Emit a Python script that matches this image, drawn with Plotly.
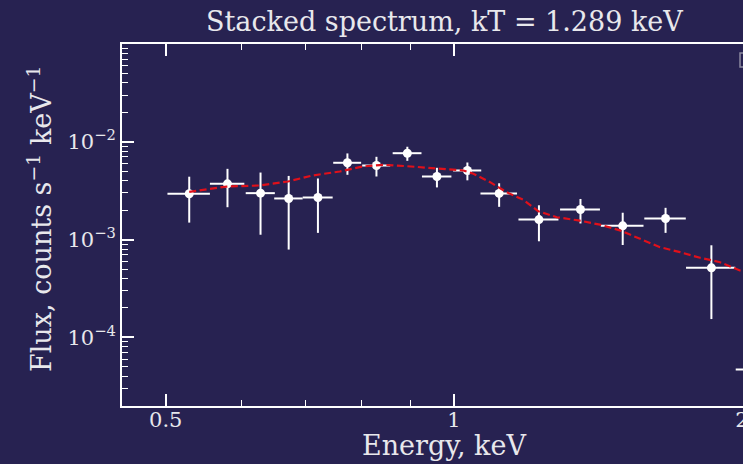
import numpy as np
import plotly.graph_objects as go

# Stacked spectrum: binned flux with 1-sigma errors
energy = [0.529, 0.580, 0.628, 0.672, 0.721, 0.774, 0.830, 0.894, 0.960, 1.033,
          1.115, 1.227, 1.356, 1.501, 1.664, 1.858, 2.09]
energy_err = [0.027, 0.024, 0.022, 0.023, 0.026, 0.026, 0.028, 0.031, 0.034, 0.035,
              0.049, 0.059, 0.065, 0.077, 0.083, 0.11, 0.12]
flux = [2.94e-3, 3.71e-3, 2.98e-3, 2.63e-3, 2.69e-3, 6.09e-3, 5.71e-3, 7.63e-3, 4.41e-3, 5.08e-3,
        2.96e-3, 1.60e-3, 2.03e-3, 1.38e-3, 1.64e-3, 5.14e-4, 4.71e-5]
flux_err = [1.45e-3, 1.57e-3, 1.86e-3, 1.84e-3, 1.52e-3, 1.5e-3, 1.3e-3, 1.25e-3, 1.0e-3, 1.05e-3,
            0.8e-3, 0.64e-3, 0.57e-3, 0.5e-3, 0.47e-3, 3.6e-4, 3.0e-5]

# Best-fit thermal model
model_energy = [0.529, 0.579, 0.627, 0.671, 0.712, 0.760, 0.803, 0.843, 0.893, 0.944,
                1.023, 1.048, 1.091, 1.135, 1.182, 1.225, 1.281, 1.349, 1.421, 1.491,
                1.565, 1.642, 1.723, 1.808, 1.897, 1.990, 2.09]
model_flux = [3.07e-3, 3.48e-3, 3.57e-3, 3.92e-3, 4.52e-3, 4.96e-3, 5.58e-3, 5.81e-3, 5.62e-3, 5.41e-3,
              5.08e-3, 4.70e-3, 3.86e-3, 3.05e-3, 2.55e-3, 1.95e-3, 1.69e-3, 1.57e-3, 1.42e-3, 1.24e-3,
              1.02e-3, 8.36e-4, 7.43e-4, 6.51e-4, 5.87e-4, 4.83e-4, 4.3e-4]

x_ticks = [0.5, 1, 2]
x_tick_text = ["0.5", "1", "2"]
x_minor = [0.6, 0.7, 0.8, 0.9]
y_ticks = [1e-4, 1e-3, 1e-2]
y_tick_text = ["10<sup>\u22124</sup>", "10<sup>\u22123</sup>", "10<sup>\u22122</sup>"]
y_minor = [m * 10.0 ** e for e in (-5, -4, -3, -2) for m in range(2, 10)]

BG = "#272251"
FG = "#e8e8ec"
FONT = "DejaVu Serif"

fig = go.Figure()
fig.add_trace(go.Scatter(
    x=energy, y=flux, mode="markers",
    marker=dict(color="white", size=9),
    error_x=dict(type="data", array=energy_err, color="white", thickness=2, width=0),
    error_y=dict(type="data", array=flux_err, color="white", thickness=2, width=0),
    showlegend=False,
))
fig.add_trace(go.Scatter(
    x=model_energy, y=model_flux, mode="lines",
    line=dict(color="#e0101a", width=2.2, dash="7px,3.5px"),
    showlegend=False,
))

axis_common = dict(
    showline=True, linecolor="white", linewidth=2,
    ticks="inside", tickcolor="white", tickwidth=1.5, ticklen=12,
    showgrid=False, zeroline=False, automargin=False,
    tickfont=dict(family=FONT, size=21, color=FG),
)

fig.update_xaxes(
    type="log", range=[np.log10(0.45), np.log10(2.0048)],
    tickmode="array", tickvals=x_ticks, ticktext=x_tick_text,
    mirror="ticks", ticklabelstandoff=-6, ticklabeloverflow="allow",
    minor=dict(ticks="inside", tickvals=x_minor, ticklen=6, tickwidth=1.3, tickcolor="white"),
    **axis_common,
)
fig.update_yaxes(
    type="log", range=[-4.701, -1.0015],
    tickmode="array", tickvals=y_ticks, ticktext=y_tick_text,
    mirror=False,
    minor=dict(ticks="inside", tickvals=y_minor, ticklen=6, tickwidth=1.3, tickcolor="white"),
    **axis_common,
)

# legend frame at the upper right
fig.add_shape(type="rect", xref="paper", yref="paper",
              x0=0.9952, x1=1.2, y0=0.9365, y1=0.975,
              line=dict(color="#8c8aa0", width=1.5))

fig.add_annotation(text="Stacked spectrum, kT = 1.289 keV", xref="paper", yref="paper",
                   x=0.5193, y=1.0635, xanchor="center", yanchor="middle", showarrow=False,
                   font=dict(family=FONT, size=27, color=FG))
fig.add_annotation(text="Energy, keV", xref="paper", yref="paper",
                   x=0.5193, y=-0.11, xanchor="center", yanchor="middle", showarrow=False,
                   font=dict(family=FONT, size=27, color=FG))
fig.add_annotation(text="Flux, counts s<sup>\u22121</sup> keV<sup>\u22121</sup>", xref="paper", yref="paper",
                   x=-0.132, y=0.5166, xanchor="center", yanchor="middle", showarrow=False,
                   textangle=-90, font=dict(family=FONT, size=27, color=FG))

fig.update_layout(
    width=743, height=464,
    margin=dict(l=122, r=0, t=44, b=58, autoexpand=False),
    paper_bgcolor=BG, plot_bgcolor=BG,
    font=dict(family=FONT, color=FG),
)

fig.write_html("out.html")
